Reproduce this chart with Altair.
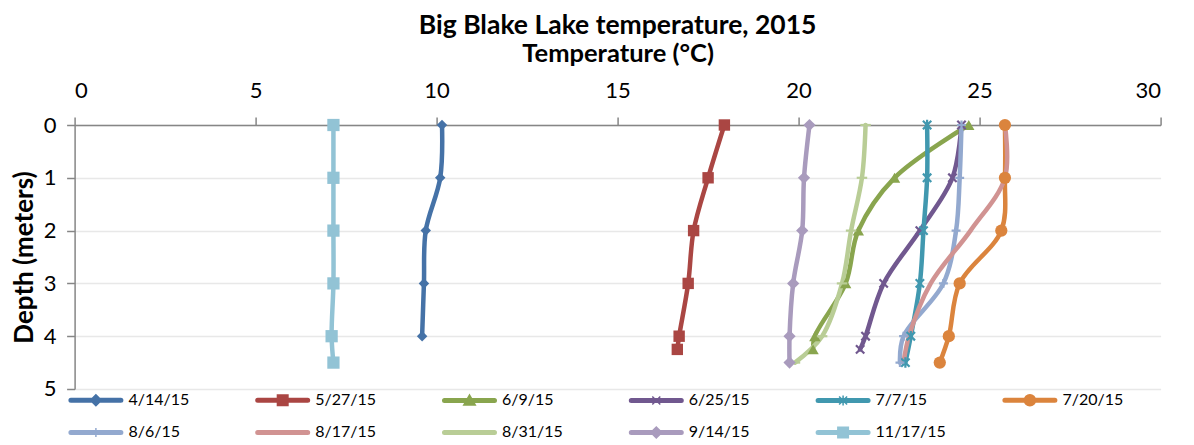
import altair as alt
import pandas as pd

# ---- data ----
SERIES = ["4/14/15", "5/27/15", "6/9/15", "6/25/15", "7/7/15", "7/20/15",
          "8/6/15", "8/17/15", "8/31/15", "9/14/15", "11/17/15"]

DEPTH_0414 = [0, 1, 2, 3, 4]
TEMP_0414 = [10.15, 10.1, 9.7, 9.65, 9.6]

DEPTH_0527 = [0, 1, 2, 3, 4, 4.25]
TEMP_0527 = [17.95, 17.5, 17.1, 16.95, 16.7, 16.65]

DEPTH_0609 = [0, 1, 2, 3, 4, 4.25]
TEMP_0609 = [24.7, 22.65, 21.65, 21.3, 20.45, 20.4]

DEPTH_0625 = [0, 1, 2, 3, 4, 4.25]
TEMP_0625 = [24.5, 24.25, 23.35, 22.35, 21.85, 21.7]

DEPTH_0707 = [0, 1, 2, 3, 4, 4.5]
TEMP_0707 = [23.55, 23.55, 23.45, 23.35, 23.1, 22.95]

DEPTH_0720 = [0, 1, 2, 3, 4, 4.5]
TEMP_0720 = [25.7, 25.7, 25.6, 24.45, 24.15, 23.9]

DEPTH_0806 = [0, 1, 2, 3, 4, 4.5]
TEMP_0806 = [24.5, 24.45, 24.35, 24.0, 22.9, 22.8]

DEPTH_0817 = [0, 1, 2, 3, 4, 4.5]
TEMP_0817 = [25.7, 25.7, 24.75, 23.65, 23.05, 22.9]

DEPTH_0831 = [0, 1, 2, 3, 4, 4.5]
TEMP_0831 = [21.85, 21.75, 21.45, 21.2, 20.65, 19.9]

DEPTH_0914 = [0, 1, 2, 3, 4, 4.5]
TEMP_0914 = [20.3, 20.15, 20.1, 19.85, 19.75, 19.75]

DEPTH_1117 = [0, 1, 2, 3, 4, 4.5]
TEMP_1117 = [7.15, 7.15, 7.15, 7.15, 7.1, 7.15]

X_TICKS = [0, 5, 10, 15, 20, 25, 30]
Y_TICKS = [0, 1, 2, 3, 4, 5]

TITLE = "Big Blake Lake temperature, 2015"
X_TITLE = "Temperature (\u00b0C)"
Y_TITLE = "Depth (meters)"

# ---- build table ----
pairs = [
    (DEPTH_0414, TEMP_0414), (DEPTH_0527, TEMP_0527), (DEPTH_0609, TEMP_0609),
    (DEPTH_0625, TEMP_0625), (DEPTH_0707, TEMP_0707), (DEPTH_0720, TEMP_0720),
    (DEPTH_0806, TEMP_0806), (DEPTH_0817, TEMP_0817), (DEPTH_0831, TEMP_0831),
    (DEPTH_0914, TEMP_0914), (DEPTH_1117, TEMP_1117),
]
rows = []
for name, (ds, ts) in zip(SERIES, pairs):
    for d, t in zip(ds, ts):
        rows.append({"date": name, "depth": d, "temp": t})
df = pd.DataFrame(rows)

# ---- styles ----
COLORS = ["#4572A7", "#AA4643", "#89A54E", "#71588F", "#4198AF", "#DB843D",
          "#93A9CF", "#D19392", "#B9CD96", "#A99BBD", "#92C3D5"]

# (shape, filled, size) per series; None = no marker
MARKERS = [
    ("diamond", True, 110),
    ("square", True, 130),
    ("triangle-up", True, 130),
    ("M-1,-1L1,1M-1,1L1,-1", False, 70),
    ("M-1,-1L1,1M-1,1L1,-1M0,-1.25L0,1.25", False, 70),
    ("circle", True, 150),
    ("M-1,0L1,0M0,-1L0,1", False, 80),
    None,
    ("M-1,0L1,0", False, 110),
    ("diamond", True, 150),
    ("square", True, 150),
]

# legend glyph: rounded line from U0 to U1 (symbol units) with marker at its middle
U0, U1, HW = -1.1, 8.9, 0.35
C = (U0 + U1) / 2


def f(v):
    return f"{v:.3f}".rstrip("0").rstrip(".")


LINE = (f"M{f(U0)},{f(-HW)}L{f(U1)},{f(-HW)}A{HW},{HW} 0 0,1 {f(U1)},{f(HW)}"
        f"L{f(U0)},{f(HW)}A{HW},{HW} 0 0,1 {f(U0)},{f(-HW)}Z")
DIAM = f"M{f(C-1.1)},0L{f(C)},-1.1L{f(C+1.1)},0L{f(C)},1.1Z"
SQ = f"M{f(C-1.05)},-1.05L{f(C+1.05)},-1.05L{f(C+1.05)},1.05L{f(C-1.05)},1.05Z"
TRI = f"M{f(C-1.15)},0.9L{f(C)},-1.1L{f(C+1.15)},0.9Z"
XS = f"M{f(C-0.8)},-0.8L{f(C+0.8)},0.8M{f(C-0.8)},0.8L{f(C+0.8)},-0.8"
AST = XS + f"M{f(C)},-1L{f(C)},1"
CIRC = f"M{f(C-1.1)},0A1.1,1.1 0 1,1 {f(C+1.1)},0A1.1,1.1 0 1,1 {f(C-1.1)},0Z"
PLUS = f"M{f(C)},-0.9L{f(C)},0.9"
LEG_MARK = [DIAM, SQ, TRI, XS, AST, CIRC, PLUS, "", "", DIAM, SQ]

sym_expr = "'" + LINE + "'"
for name, m in reversed(list(zip(SERIES, LEG_MARK))):
    sym_expr = f"datum.value === '{name}' ? '{LINE + m}' : ({sym_expr})"
fill_expr = "'black'"
for name, c in reversed(list(zip(SERIES, COLORS))):
    fill_expr = f"datum.value === '{name}' ? '{c}' : ({fill_expr})"

FONT = "Lato"

color_scale = alt.Scale(domain=SERIES, range=COLORS)

x_enc = alt.X("temp:Q", scale=alt.Scale(domain=[0, 30], nice=False, zero=False),
              axis=alt.Axis(orient="top", values=X_TICKS, title=X_TITLE, grid=False,
                            labelFontSize=22, titleFontSize=25.5, titleFontWeight="bold",
                            labelPadding=15, titlePadding=13, tickSize=8,
                            domainColor="#868686", tickColor="#868686",
                            domainWidth=1.5, tickWidth=1.5,
                            labelColor="#000000", titleColor="#000000"))
y_enc = alt.Y("depth:Q", scale=alt.Scale(domain=[0, 5], reverse=True, nice=False),
              axis=alt.Axis(orient="left", values=Y_TICKS, title=Y_TITLE, grid=True,
                            gridColor="#E8E8E8", gridWidth=1.5,
                            labelFontSize=22, titleFontSize=26, titleFontWeight="bold",
                            labelPadding=10.5, titlePadding=6, tickSize=8,
                            domainColor="#868686", tickColor="#868686",
                            domainWidth=1.5, tickWidth=1.5,
                            labelColor="#000000", titleColor="#000000"))

lines = alt.Chart(df).mark_line(interpolate="catmull-rom", strokeCap="round",
                                strokeJoin="round").encode(
    x=x_enc, y=y_enc,
    order=alt.Order("depth:Q"),
    strokeWidth=alt.value(4.5),
    color=alt.Color("date:N", scale=color_scale, title=None,
                    legend=alt.Legend(
                        orient="none", legendX=-6.2, legendY=267,
                        direction="horizontal", columns=6, gridAlign="all",
                        columnPadding=52.8, rowPadding=14.5,
                        symbolType=alt.ExprRef(expr=sym_expr),
                        symbolFillColor=alt.ExprRef(expr=fill_expr),
                        symbolSize=100, symbolStrokeWidth=1.5,
                        symbolOffset=0, labelOffset=44,
                        labelFontSize=16, labelFont=FONT, labelColor="#000000",
                        labelLimit=200)),
)

layers = [lines]
for name, mk in zip(SERIES, MARKERS):
    if mk is None:
        continue
    shape, filled, size = mk
    layer = alt.Chart(df).transform_filter(
        alt.datum.date == name
    ).mark_point(shape=shape, filled=filled, size=size, opacity=1,
                 strokeWidth=(0 if filled else 2.2)).encode(
        x="temp:Q", y="depth:Q",
        color=alt.Color("date:N", scale=color_scale, legend=None),
    )
    layers.append(layer)

chart = alt.layer(*layers).properties(
    width=1086, height=264,
    title=alt.TitleParams(TITLE, fontSize=26.5, font=FONT, fontWeight="bold",
                          color="#000000", anchor="middle", offset=2),
    padding={"left": 2.6, "top": 4, "right": 0, "bottom": 0},
).configure(font=FONT).configure_view(stroke=None).configure_axis(
    labelFont=FONT, titleFont=FONT
)

chart.save("out.html", embed_options={"renderer": "svg", "actions": False})
